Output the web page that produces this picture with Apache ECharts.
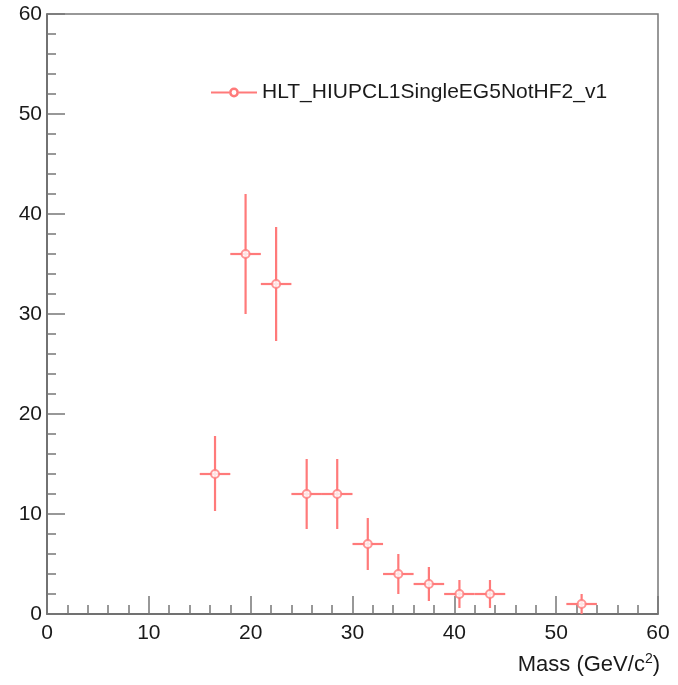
<!DOCTYPE html>
<html><head><meta charset="utf-8">
<script src="https://cdn.jsdelivr.net/npm/echarts@6/dist/echarts.min.js"></script>
<style>html,body{margin:0;padding:0;background:#fff}#c{width:678px;height:685px}</style>
</head><body><div id="c"></div>
<script>
const seriesName = 'HLT_HIUPCL1SingleEG5NotHF2_v1';
const massCenters = [16.5, 19.5, 22.5, 25.5, 28.5, 31.5, 34.5, 37.5, 40.5, 43.5, 52.5];
const counts      = [14, 36, 33, 12, 12, 7, 4, 3, 2, 2, 1];
const errLow      = [10.3, 30.0, 27.3, 8.5, 8.5, 4.4, 2.0, 1.3, 0.6, 0.6, 0.0];
const errHigh     = [17.8, 42.0, 38.7, 15.5, 15.5, 9.6, 6.0, 4.7, 3.4, 3.4, 2.0];
const binHalfWidth = [1.5, 1.5, 1.5, 1.5, 1.5, 1.5, 1.5, 1.5, 1.5, 1.5, 1.5];
const xTicks = [0, 10, 20, 30, 40, 50, 60];
const yTicks = [0, 10, 20, 30, 40, 50, 60];

const col = '#ff7a7a';
const FONT = 'Liberation Sans, Arial, sans-serif';
const errData = massCenters.map((x, i) => [x, counts[i], errLow[i], errHigh[i], x - binHalfWidth[i], x + binHalfWidth[i]]);
const ptData = massCenters.map((x, i) => [x, counts[i]]);

const legendIcon = 'path://M0,4.2 L16.5,4.2 L16.5,5.8 L0,5.8 Z M25.5,4.2 L42,4.2 L42,5.8 L25.5,5.8 Z ' +
  'M25.5,5 A4.5,4.5 0 1,0 16.5,5 A4.5,4.5 0 1,0 25.5,5 Z M23.2,5 A2.2,2.2 0 1,1 18.8,5 A2.2,2.2 0 1,1 23.2,5 Z';

const chart = echarts.init(document.getElementById('c'));
const axisCommon = {
  type: 'value', min: 0, max: 60, interval: 10,
  axisLine: { show: true, lineStyle: { color: '#666', width: 1.5 } },
  axisTick: { show: true, inside: true, length: 18, lineStyle: { color: '#777', width: 1.5 } },
  minorTick: { show: true, splitNumber: 5, length: 9, lineStyle: { color: '#777', width: 1.5 } },
  splitLine: { show: false },
  axisLabel: { color: '#1a1a1a', fontSize: 21, fontFamily: FONT }
};
chart.setOption({
  animation: false,
  grid: { left: 47, right: 20, top: 14, bottom: 71, show: true, borderColor: '#777', borderWidth: 1.5, containLabel: false },
  legend: {
    show: true, left: 206, top: 77, itemWidth: 46, itemHeight: 11,
    textStyle: { color: '#1a1a1a', fontSize: 21, fontFamily: FONT },
    data: [{ name: seriesName, icon: legendIcon, itemStyle: { color: col, borderWidth: 0 } }]
  },
  xAxis: Object.assign({}, axisCommon, {
    name: '{a|Mass (GeV/c}{s|2}{a|)}', nameLocation: 'end', nameGap: 2,
    nameTextStyle: {
      align: 'right', verticalAlign: 'top', padding: [38, 0, 0, 0],
      rich: {
        a: { color: '#1a1a1a', fontSize: 22, fontFamily: FONT },
        s: { color: '#1a1a1a', fontSize: 14, fontFamily: FONT, padding: [0, 0, 12, 0] }
      }
    },
    axisLabel: Object.assign({}, axisCommon.axisLabel, { margin: 9, formatter: v => xTicks.includes(v) ? String(v) : '' })
  }),
  yAxis: Object.assign({}, axisCommon, {
    axisLabel: Object.assign({}, axisCommon.axisLabel, { margin: 5, formatter: v => yTicks.includes(v) ? String(v) : '' })
  }),
  series: [
    {
      type: 'custom', name: seriesName, data: errData, z: 2,
      itemStyle: { color: col },
      renderItem: function (params, api) {
        const c = api.coord([api.value(0), api.value(1)]);
        const lo = api.coord([api.value(0), api.value(2)]);
        const hi = api.coord([api.value(0), api.value(3)]);
        const l = api.coord([api.value(4), api.value(1)]);
        const r = api.coord([api.value(5), api.value(1)]);
        const st = { stroke: col, lineWidth: 2.2 };
        return { type: 'group', children: [
          { type: 'line', shape: { x1: c[0], y1: lo[1], x2: c[0], y2: hi[1] }, style: st },
          { type: 'line', shape: { x1: l[0], y1: c[1], x2: r[0], y2: c[1] }, style: st }
        ]};
      }
    },
    {
      type: 'scatter', name: seriesName, data: ptData, symbol: 'circle', symbolSize: 8, z: 3,
      itemStyle: { color: '#fff', borderColor: col, borderWidth: 2 }
    }
  ]
});
</script></body></html>
